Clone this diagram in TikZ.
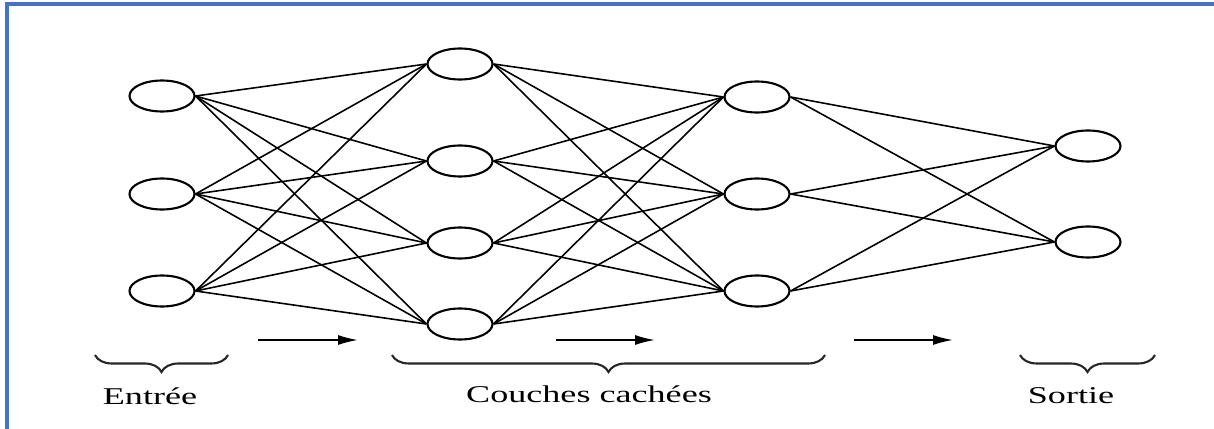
\documentclass[tikz,border=0pt]{standalone}
\usepackage{fontspec}
\setmainfont{Liberation Serif}
\usepackage{tikz}
\usetikzlibrary{shapes,decorations.pathreplacing,arrows.meta}
\definecolor{frameblue}{RGB}{68,114,196}
\tikzstyle{neuron}=[ellipse,draw=black,line width=1.2pt,minimum width=1.3cm,minimum height=0.62cm,inner sep=0pt]
\tikzstyle{link}=[-,line width=0.9pt]
\tikzstyle{flow}=[-{Latex[length=0.4cm,width=0.2cm]},line width=0.9pt]
\tikzstyle{layerbrace}=[decorate,decoration={brace,mirror,amplitude=0.34cm},line width=1.2pt,draw=black!85]
\tikzstyle{caption}=[font=\fontsize{13.7}{16}\selectfont,inner sep=0pt]
\tikzstyle{frame}=[draw=frameblue,line width=2pt]
\pgfdeclarelayer{edgelayer}
\pgfdeclarelayer{nodelayer}
\pgfsetlayers{edgelayer,nodelayer,main}
\newcommand{\widetext}[1]{\scalebox{1.5}[1]{#1}}
\begin{document}
\begin{tikzpicture}[x=0.02cm,y=-0.02cm]
	\useasboundingbox (0,0) rectangle (1214,429);
	\coordinate (ftl) at (7,4);
	\coordinate (ftr) at (1214,4);
	\coordinate (fbl) at (7,429);
	\draw [style=frame] (fbl) -- (ftl) -- (ftr);
	\begin{pgfonlayer}{nodelayer}
		% entree
		\node [style=neuron] (e1) at (162, 96) {};
		\node [style=neuron] (e2) at (162, 194) {};
		\node [style=neuron] (e3) at (162, 291) {};
		% premiere couche cachee
		\node [style=neuron] (c1) at (460, 64) {};
		\node [style=neuron] (c2) at (460, 161) {};
		\node [style=neuron] (c3) at (460, 243) {};
		\node [style=neuron] (c4) at (460, 324) {};
		% deuxieme couche cachee
		\node [style=neuron] (d1) at (757, 97) {};
		\node [style=neuron] (d2) at (757, 194) {};
		\node [style=neuron] (d3) at (757, 291) {};
		% sortie
		\node [style=neuron] (s1) at (1088, 146) {};
		\node [style=neuron] (s2) at (1088, 242) {};

		\coordinate (f1a) at (258, 340);
		\coordinate (f1b) at (358, 340);
		\coordinate (f2a) at (556, 340);
		\coordinate (f2b) at (655, 340);
		\coordinate (f3a) at (854, 340);
		\coordinate (f3b) at (953, 340);

		\coordinate (be1) at (95, 355);
		\coordinate (be2) at (228, 355);
		\coordinate (bc1) at (392, 355);
		\coordinate (bc2) at (825, 355);
		\coordinate (bs1) at (1020, 355);
		\coordinate (bs2) at (1155, 355);

		\node [style=caption] (lentree) at (150, 396) {\widetext{Entrée}};
		\node [style=caption] (lcachees) at (589, 394) {\widetext{Couches cachées}};
		\node [style=caption] (lsortie) at (1071, 396) {\widetext{Sortie}};
	\end{pgfonlayer}
	\begin{pgfonlayer}{edgelayer}
		\draw [style=link] (e1.east) to (c1.west);
		\draw [style=link] (e1.east) to (c2.west);
		\draw [style=link] (e1.east) to (c3.west);
		\draw [style=link] (e1.east) to (c4.west);
		\draw [style=link] (e2.east) to (c1.west);
		\draw [style=link] (e2.east) to (c2.west);
		\draw [style=link] (e2.east) to (c3.west);
		\draw [style=link] (e2.east) to (c4.west);
		\draw [style=link] (e3.east) to (c1.west);
		\draw [style=link] (e3.east) to (c2.west);
		\draw [style=link] (e3.east) to (c3.west);
		\draw [style=link] (e3.east) to (c4.west);
		\draw [style=link] (c1.east) to (d1.west);
		\draw [style=link] (c1.east) to (d2.west);
		\draw [style=link] (c1.east) to (d3.west);
		\draw [style=link] (c2.east) to (d1.west);
		\draw [style=link] (c2.east) to (d2.west);
		\draw [style=link] (c2.east) to (d3.west);
		\draw [style=link] (c3.east) to (d1.west);
		\draw [style=link] (c3.east) to (d2.west);
		\draw [style=link] (c3.east) to (d3.west);
		\draw [style=link] (c4.east) to (d1.west);
		\draw [style=link] (c4.east) to (d2.west);
		\draw [style=link] (c4.east) to (d3.west);
		\draw [style=link] (d1.east) to (s1.west);
		\draw [style=link] (d1.east) to (s2.west);
		\draw [style=link] (d2.east) to (s1.west);
		\draw [style=link] (d2.east) to (s2.west);
		\draw [style=link] (d3.east) to (s1.west);
		\draw [style=link] (d3.east) to (s2.west);
		\draw [style=flow] (f1a) to (f1b);
		\draw [style=flow] (f2a) to (f2b);
		\draw [style=flow] (f3a) to (f3b);
		\draw [style=layerbrace] (be1) to (be2);
		\draw [style=layerbrace] (bc1) to (bc2);
		\draw [style=layerbrace] (bs1) to (bs2);
	\end{pgfonlayer}
\end{tikzpicture}
\end{document}
